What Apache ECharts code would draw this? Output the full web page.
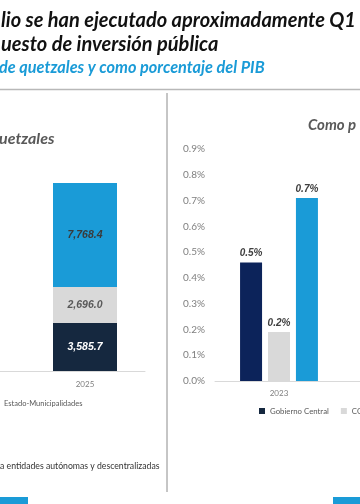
<!DOCTYPE html>
<html>
<head>
<meta charset="utf-8">
<script src="https://cdn.jsdelivr.net/npm/echarts@6/dist/echarts.min.js"></script>
<style>
html,body{margin:0;padding:0;background:#fff;width:360px;height:504px;overflow:hidden;position:relative;}
#c{position:absolute;left:-240px;top:0;width:840px;height:504px;}
</style>
</head>
<body>
<div id="c"></div>
<script>
// ---- data ----
const seriesNames = ['Gobierno Central', 'CODEDES', 'Estado-Municipalidades'];
const qCategories = ['2023', '2024', '2025'];           // left panel (only 2025 visible)
const qGobiernoCentral = [null, null, 3585.7];
const qCodedes = [null, null, 2696.0];
const qMunicipalidades = [null, null, 7768.4];
const pCategories = ['2023', '2024', '2025'];           // right panel (only 2023 visible)
const pGobiernoCentral = [0.46, null, null];
const pCodedes = [0.19, null, null];
const pMunicipalidades = [0.71, null, null];
const pTicks = [0, 0.9, 0.1];

const OX = 240; // chart canvas is shifted left by this many px (the slide is cropped)
const colors = { navyL: '#15283f', navyR: '#0c235a', grey: '#d9d9d9', blue: '#1a9bd7' };
const fontT = 'Lato, "Open Sans", sans-serif';

function fmtQ(v) {
  return v.toFixed(1).replace(/\B(?=(\d{3})+(?!\d))/g, ',');
}

const chart = echarts.init(document.getElementById('c'), null, { renderer: 'canvas' });

const qLabel = (color) => ({
  show: true, position: 'inside', color: color, fontSize: 10.5, fontWeight: 'bold',
  fontStyle: 'italic', fontFamily: 'Arial, "Liberation Sans", sans-serif',
  formatter: p => p.value == null ? '' : fmtQ(p.value)
});
const pLabel = {
  show: true, position: 'top', distance: 4, color: '#404040', fontSize: 10, fontWeight: 'bold',
  fontStyle: 'italic', fontFamily: 'Arial, "Liberation Sans", sans-serif',
  formatter: p => p.value == null ? '' : p.value.toFixed(1) + '%'
};

chart.setOption({
  animation: false,
  backgroundColor: '#fff',
  grid: [
    { left: OX - 215, width: 360, top: 157, height: 214 },
    { left: OX + 215, width: 384, top: 149, height: 232 }
  ],
  xAxis: [
    { type: 'category', gridIndex: 0, data: qCategories,
      axisLine: { lineStyle: { color: '#d9d9d9' } }, axisTick: { show: false },
      axisLabel: { color: '#7f7f7f', fontSize: 8, margin: 9, fontFamily: 'Lato, sans-serif' } },
    { type: 'category', gridIndex: 1, data: pCategories,
      axisLine: { lineStyle: { color: '#d9d9d9' } }, axisTick: { show: false },
      axisLabel: { color: '#7f7f7f', fontSize: 8, margin: 8, fontFamily: 'Lato, sans-serif' } }
  ],
  yAxis: [
    { type: 'value', gridIndex: 0, min: 0, max: 16000, show: false },
    { type: 'value', gridIndex: 1, min: pTicks[0], max: pTicks[1], interval: pTicks[2],
      axisLine: { show: false }, axisTick: { show: false }, splitLine: { show: false },
      axisLabel: { color: '#7f7f7f', fontSize: 10, margin: 10, fontFamily: 'Lato, sans-serif',
        formatter: v => v.toFixed(1) + '%' } }
  ],
  legend: [
    { data: ['Estado-Municipalidades'], left: OX - 7, top: 400, padding: 0, itemWidth: 6, itemHeight: 6,
      icon: 'rect', textStyle: { color: '#595959', fontSize: 7.5, fontFamily: 'Lato, sans-serif' } },
    { data: seriesNames, left: OX + 259, top: 407, padding: 0, itemWidth: 6, itemHeight: 6, itemGap: 12,
      icon: 'rect', textStyle: { color: '#595959', fontSize: 7.8, fontFamily: 'Lato, sans-serif' } }
  ],
  series: [
    { name: seriesNames[0], type: 'bar', xAxisIndex: 0, yAxisIndex: 0, stack: 'q', barWidth: 64,
      data: qGobiernoCentral, itemStyle: { color: colors.navyL }, label: qLabel('#ffffff') },
    { name: seriesNames[1], type: 'bar', xAxisIndex: 0, yAxisIndex: 0, stack: 'q', barWidth: 64,
      data: qCodedes, itemStyle: { color: colors.grey }, label: qLabel('#595959') },
    { name: seriesNames[2], type: 'bar', xAxisIndex: 0, yAxisIndex: 0, stack: 'q', barWidth: 64,
      data: qMunicipalidades, itemStyle: { color: colors.blue }, label: qLabel('#3a3a3a') },
    { name: seriesNames[0], type: 'bar', xAxisIndex: 1, yAxisIndex: 1, barWidth: 22, barGap: '27%',
      data: pGobiernoCentral, itemStyle: { color: colors.navyR }, label: pLabel },
    { name: seriesNames[1], type: 'bar', xAxisIndex: 1, yAxisIndex: 1, barWidth: 22, barGap: '27%',
      data: pCodedes, itemStyle: { color: colors.grey }, label: pLabel },
    { name: seriesNames[2], type: 'bar', xAxisIndex: 1, yAxisIndex: 1, barWidth: 22, barGap: '27%',
      data: pMunicipalidades, itemStyle: { color: colors.blue }, label: pLabel }
  ],
  graphic: [
    { type: 'text', left: OX + 1, top: 11, style: { text: 'lio se han ejecutado aproximadamente Q1',
      fill: '#111', font: 'italic bold 20px ' + fontT } },
    { type: 'text', left: OX + 1, top: 35, style: { text: 'uesto de inversión pública',
      fill: '#111', font: 'italic bold 20px ' + fontT } },
    { type: 'text', left: OX - 1, top: 60, style: { text: 'de quetzales y como porcentaje del PIB',
      fill: '#1a9bd7', font: 'italic bold 16.3px ' + fontT } },
    { type: 'line', shape: { x1: OX - 10, y1: 89.5, x2: OX + 370, y2: 89.5 },
      style: { stroke: '#b8b8b8', lineWidth: 1.5 } },
    { type: 'line', shape: { x1: OX + 167, y1: 93, x2: OX + 167, y2: 492 },
      style: { stroke: '#8c8c8c', lineWidth: 1 } },
    { type: 'text', left: OX - 1, top: 131, style: { text: 'uetzales',
      fill: '#595959', font: 'italic bold 16px ' + fontT } },
    { type: 'text', left: OX + 308, top: 118, style: { text: 'Como p',
      fill: '#595959', font: 'italic bold 15px ' + fontT } },
    { type: 'text', left: OX + 0, top: 462, style: { text: 'a entidades autónomas y descentralizadas',
      fill: '#333', font: '8.7px ' + fontT } },
    { type: 'rect', shape: { x: OX + 0, y: 497, width: 28, height: 7 }, style: { fill: '#1a9bd7' } },
    { type: 'rect', shape: { x: OX + 333, y: 497, width: 27, height: 7 }, style: { fill: '#1a9bd7' } }
  ]
});
</script>
</body>
</html>
